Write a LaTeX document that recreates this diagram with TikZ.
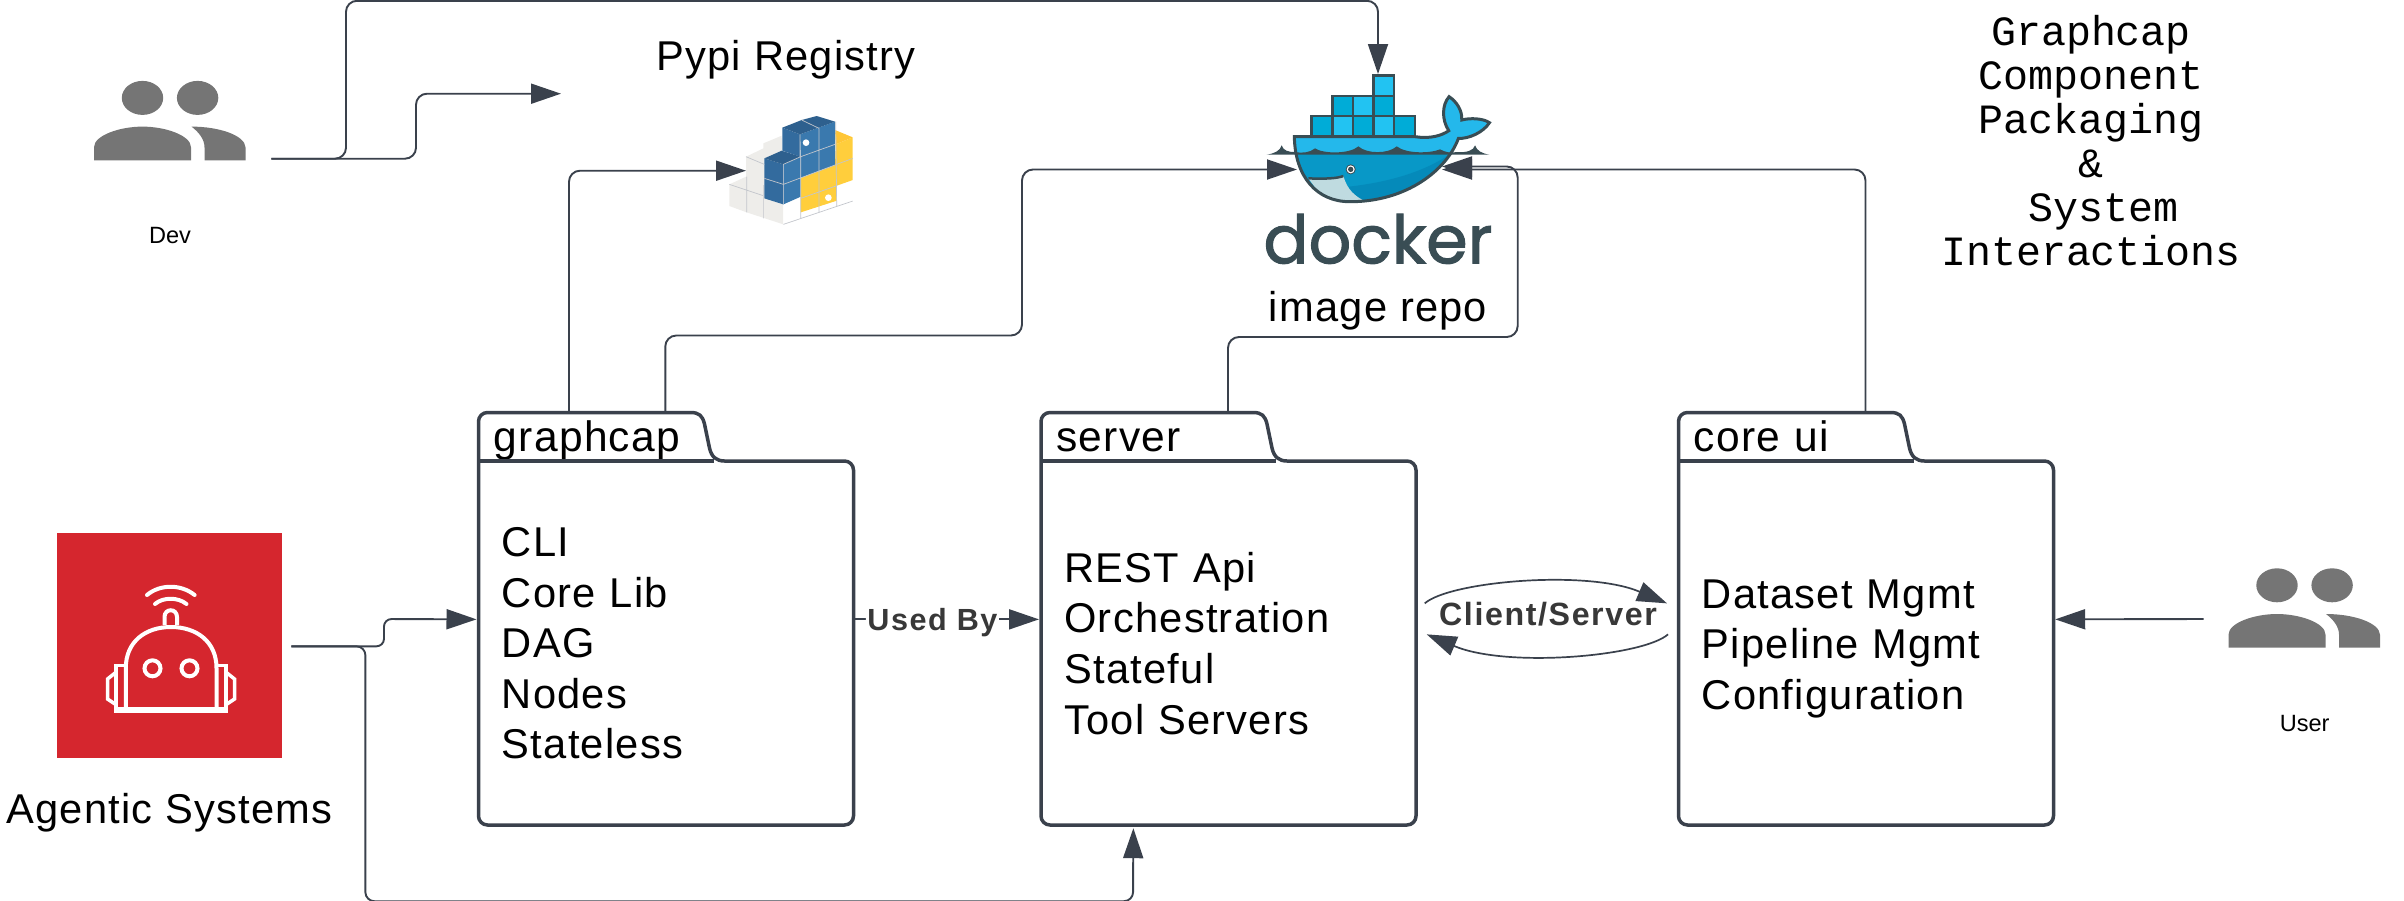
\documentclass[tikz,border=0pt]{standalone}
\usepackage{fontspec}
\usepackage{tikz}
\usetikzlibrary{positioning,arrows.meta}
\setmainfont{Liberation Sans}
\newfontfamily\labelfont[LetterSpace=3]{Liberation Sans}
\newfontfamily\edgefont[LetterSpace=5]{Liberation Sans}
\newfontfamily\titlefont{Liberation Mono}
\newfontfamily\dockerfont[FakeBold=1.6]{Poppins}
\definecolor{linegray}{HTML}{3A414C}
\definecolor{peoplegray}{HTML}{757575}
\definecolor{robotred}{HTML}{D5262E}
\definecolor{dockerdark}{HTML}{394D54}
\definecolor{boxdark}{HTML}{00ACD7}
\definecolor{boxlight}{HTML}{22C3F2}
\definecolor{whaletop}{HTML}{24B8EB}
\definecolor{whalemid}{HTML}{0898C7}
\definecolor{whalelow}{HTML}{058ABA}
\definecolor{whalebelly}{HTML}{BFDBE0}
\definecolor{cubegray}{HTML}{EEEDEA}
\definecolor{cubeline}{HTML}{C3C6CC}
\definecolor{pyblue}{HTML}{3A79AE}
\definecolor{pybluedark}{HTML}{336B9E}
\definecolor{pyyellow}{HTML}{FFCE3C}
\tikzset {
    style pkgline/.style={
        draw=linegray,
        line width=.7mm,
    },
    style pkg/.style={
        rectangle, % body of a package
        anchor=north west,
        minimum height=72.8mm,
        text width=65.8mm,
        inner xsep=4.6mm,
        inner ysep=0mm,
        align=left,
        font=\labelfont\fontsize{23.7}{28.75}\selectfont,
    },
    style tab/.style={
        rectangle, % tab of a package
        anchor=north west,
        text width=41mm,
        inner xsep=3mm,
        inner ysep=0mm,
        text height=7.7mm,
        text depth=2mm,
        align=left,
        font=\labelfont\fontsize{24.2}{28.75}\selectfont,
    },
    style plain/.style={
        draw=none,
        anchor=base,
        inner sep=0mm,
        font=\labelfont\fontsize{23.7}{28.75}\selectfont,
    },
    style small/.style={
        draw=none,
        anchor=base,
        inner sep=0mm,
        font=\fontsize{13.4}{16}\selectfont,
    },
    style edge/.style={
        fill=white,
        anchor=base,
        text=black!78,
        inner xsep=.3mm,
        inner ysep=.2mm,
        font=\edgefont\bfseries\fontsize{18.3}{20}\selectfont,
    },
    style conn/.style={
        draw=linegray,
        line width=.38mm,
        rounded corners=2.2mm,
        -{Triangle[length=6mm,width=4mm]},
    },
    style arc/.style={
        draw=linegray,
        line width=.34mm,
        -{Triangle[length=6mm,width=4mm]},
    },
    style robot/.style={
        draw=white,
        line width=.8mm,
    },
    style crate/.style={
        draw=dockerdark,
        line width=.54mm,
    },
    people/.pic={
        \fill[peoplegray] (48.5,-62.4) ellipse [x radius=20.7,y radius=17];
        \fill[peoplegray] (103.6,-62.4) ellipse [x radius=20.7,y radius=17];
        \fill[peoplegray] (0,0) -- (0,-13) .. controls (0,-25) and (26,-33.7) .. (48.5,-33.7)
            .. controls (71,-33.7) and (97,-25) .. (97,-13) -- (97,0) -- cycle;
        \fill[peoplegray] (97.5,-33.7) .. controls (125,-33.7) and (151,-25) .. (151.5,-13)
            -- (151.5,0) -- (110.5,0) -- (110.5,-13) .. controls (110.5,-21) and (105,-28) .. cycle;
    },
}
% outline of a package, tab included
\newcommand{\pkgoutline}[1]{
\draw[style pkgline, line join=round] (#1.north west) -- ++(0,-39.5) .. controls +(0,-5) and +(-5,0) .. ++(9,-9) -- ++(203,0)
    .. controls +(9,0) and +(-2,-8) .. ++(14,11.5) -- ++(5,24)
    .. controls +(2,9) and +(-8,0) .. ++(15,13) -- ++(120,0)
    .. controls +(5,0) and +(0,-5) .. ++(9,9) -- ++(0,346)
    .. controls +(0,5) and +(5,0) .. ++(-9,9) -- ++(-357,0)
    .. controls +(-5,0) and +(0,5) .. ++(-9,-9) -- (#1.north west);
\draw[style pkgline] (#1.north west) -- ++(235,0);
}
\begin{document}
\begin{tikzpicture}[x=.2mm,y=-.2mm]
\useasboundingbox (0,0) rectangle (2404,900);

% docker logo
\begin{scope}[shift={(1260,70)},x=.0667mm,y=-.0667mm]
\def\whalebody{(103,200) -- (465,200) .. controls (510,207) and (545,197) .. (566,182)
    .. controls (545,150) and (545,105) .. (567,80) .. controls (590,95) and (607,122) .. (605,150)
    .. controls (630,143) and (670,145) .. (688,158) .. controls (670,187) and (625,207) .. (595,205)
    .. controls (560,300) and (440,395) .. (270,395) .. controls (170,395) and (105,320) .. (103,200) -- cycle}
\fill[whalemid] \whalebody;
\begin{scope}
\clip \whalebody;
\fill[whaletop] (90,70) rectangle (700,250);
\fill[whalelow] (570,252) .. controls (500,300) and (400,335) .. (265,350) -- (300,400) -- (600,400) -- cycle;
\fill[whalebelly] (145,325) .. controls (200,327) and (230,325) .. (250,318)
    .. controls (262,360) and (285,378) .. (312,392) -- (200,400) -- cycle;
\end{scope}
\fill[dockerdark] (20,254) .. controls (45,250) and (60,242) .. (65,226) .. controls (70,242) and (85,246) .. (105,246)
    .. controls (125,250) and (150,248) .. (165,235) .. controls (190,252) and (270,252) .. (295,229)
    .. controls (320,252) and (385,252) .. (410,229) .. controls (440,252) and (510,250) .. (540,238)
    .. controls (555,246) and (570,250) .. (590,246) .. controls (620,248) and (640,242) .. (645,226)
    .. controls (650,242) and (665,250) .. (688,254) -- cycle;
\draw[dockerdark,line width=.6mm] \whalebody;
\draw[dockerdark,line width=.5mm] (145,325) .. controls (200,327) and (230,325) .. (250,318);
\fill[dockerdark] (272,298) circle (15);
\fill[white] (272,298) circle (12);
\fill[dockerdark] (272,298) circle (8);
\draw[style crate,fill=boxdark] (155,138) rectangle (218,200);
\draw[style crate,fill=boxlight] (218,138) rectangle (279,200);
\draw[style crate,fill=boxdark] (279,138) rectangle (340,200);
\draw[style crate,fill=boxlight] (340,138) rectangle (402,200);
\draw[style crate,fill=boxdark] (402,138) rectangle (465,200);
\draw[style crate,fill=boxdark] (218,78) rectangle (279,138);
\draw[style crate,fill=boxlight] (279,78) rectangle (340,138);
\draw[style crate,fill=boxdark] (340,78) rectangle (402,138);
\draw[style crate,fill=boxlight] (340,17) rectangle (402,78);
\end{scope}

% python logo
\begin{scope}[shift={(720,105)},x=.0667mm,y=-.0667mm]
\fill[cubegray] (28,238) -- (78,215) -- (78,155) -- (130,130) -- (130,115) -- (185,92) -- (190,300) -- (190,358)
    -- (135,340) -- (80,322) -- (28,303) -- cycle;
\fill[white] (190,298) -- (242,278) -- (242,340) -- (190,358) -- cycle;
\fill[white] (350,242) -- (398,225) -- (398,288) -- (350,305) -- cycle;
\fill[pyyellow] (242,218) -- (345,180) -- (347,118) -- (398,97) -- (398,225) -- (350,242) -- (350,287) -- (242,322) -- cycle;
\fill[pyyellow!90!orange] (345,75) -- (398,97) -- (347,118) -- cycle;
\fill[pybluedark] (187,68) -- (240,88) -- (240,155) -- (187,137) -- cycle;
\fill[pyblue] (240,88) -- (345,50) -- (345,180) -- (242,218) -- (242,155) -- cycle;
\fill[pybluedark!90!black] (187,68) -- (245,45) -- (290,33) -- (345,50) -- (240,88) -- cycle;
\fill[pybluedark] (133,160) -- (190,178) -- (190,298) -- (133,280) -- cycle;
\fill[pyblue] (190,178) -- (242,155) -- (242,275) -- (190,298) -- cycle;
\fill[pybluedark!90!black] (133,160) -- (185,137) -- (242,155) -- (190,178) -- cycle;
\draw[cubeline,line width=.14mm] (80,215) -- (80,322) (130,240) -- (130,340) (28,238) -- (130,272)
    (78,155) -- (133,178) (133,220) -- (190,238) -- (398,160) (190,178) -- (190,298) (242,155) -- (242,340)
    (297,70) -- (297,322) (347,50) -- (350,305) (240,88) -- (240,155) (190,178) -- (242,155) (242,155) -- (345,118)
    (190,358) -- (398,288) (245,45) -- (297,70) (242,280) -- (350,242);
\fill[white] (258,113) circle (10);
\fill[white] (325,278) circle (10);
\end{scope}

% agent icon
\node[fill=robotred, minimum width=45mm, minimum height=45mm] at (169.5,645.5) (agent) {};
\draw[style robot, line cap=round] (147,595) .. controls (160,584) and (181,584) .. (194.6,595);
\draw[style robot, line cap=round] (155,604) .. controls (163,597) and (178,597) .. (186.5,604);
\draw[style robot] (164.5,625) -- (164.5,617) .. controls (164.5,608) and (177,608) .. (177,617) -- (177,625);
\draw[style robot] (125.8,708) -- (125.8,668) .. controls (125.8,642) and (145,627) .. (171,627)
    .. controls (197,627) and (216.5,642) .. (216.5,668) -- (216.5,708);
\draw[style robot] (152.5,668.3) circle (8);
\draw[style robot] (189.5,668.3) circle (8);
\draw[style robot, line width=1.2mm] (114,709.7) -- (228,709.7);
\draw[style robot, line width=.7mm] (116,708) -- (116,665.5) -- (124,665.5);
\draw[style robot, line width=.7mm] (226,708) -- (226,665.5) -- (218,665.5);
\draw[style robot, line width=.7mm] (115,673) -- (107.5,679) -- (107.5,699) -- (115,704);
\draw[style robot, line width=.7mm] (227,673) -- (234.5,679) -- (234.5,699) -- (227,704);

% people
\pic at (94,160.3) {people};
\pic at (2228.5,647.7) {people};

% labels
\node[style small] at (170,243.3) (devLabel) {Dev};
\node[style small] at (2304.7,731) (userLabel) {User};
\node[style plain] at (169.5,823) (agentLabel) {Agentic Systems};
\node[style plain] at (786,70.7) (pypiLabel) {Pypi Registry};
\node[style plain] at (1378,321) (repoLabel) {image repo};
\node[draw=none, anchor=base, inner sep=0mm, text=dockerdark, font=\dockerfont\fontsize{38}{40}\selectfont] at (1378,263.3) (dockerLabel) {docker};
\node[draw=none, align=center, inner sep=0mm, anchor=north, font=\titlefont\fontsize{23.7}{25}\selectfont] at (2091,15) (title) {Graphcap\\Component\\Packaging\\\&\\~System\\Interactions};

% packages
\node[style tab] at (478.5,412.5) (graphcapTab) {graphcap};
\node[style tab] at (1041,412.5) (serverTab) {server};
\node[style tab] at (1678.5,412.5) (coreuiTab) {core ui};
\node[style pkg] at (478.5,461) (graphcap) {CLI\\Core Lib\\DAG\\Nodes\\Stateless};
\node[style pkg] at (1041,461) (server) {REST Api\\Orchestration\\Stateful\\Tool Servers};
\node[style pkg] at (1678.5,461) (coreui) {\rule{0pt}{22.4pt}Dataset Mgmt\\Pipeline Mgmt\\Configuration};
\pkgoutline{graphcap}
\pkgoutline{server}
\pkgoutline{coreui}

% free ends
\coordinate (devOut) at (271.4,158.7);
\coordinate (pypiOut) at (561,93.7);
\coordinate (pypiIn) at (746,170.7);
\coordinate (dockerTop) at (1378,74);
\coordinate (dockerLeft) at (1297,169.5);
\coordinate (dockerRightA) at (1442,166.5);
\coordinate (dockerRightB) at (1442,169.5);
\coordinate (agentOut) at (291.4,646.3);
\coordinate (userOut) at (2203.6,619);

\draw[style conn] (devOut) -- (346,158.7) -- (346,.8) -- (1378,.8) -- (dockerTop);
\draw[style conn] (devOut) -- (416,158.7) -- (416,93.7) -- (pypiOut);
\draw[style conn] ([shift={(90.5,0)}]graphcapTab.north west) -- (569,170.7) -- (pypiIn);
\draw[style conn] ([shift={(186.8,0)}]graphcapTab.north west) -- (665.3,335.5) -- (1022,335.5) -- (1022,169.5) -- (dockerLeft);
\draw[style conn] ([shift={(187,0)}]serverTab.north west) -- (1228,337) -- (1517.7,337) -- (1517.7,166.5) -- (dockerRightA);
\draw[style conn] ([shift={(187,0)}]coreuiTab.north west) -- (1865.5,169.5) -- (dockerRightB);
\draw[style conn, rounded corners=1.5mm] (agentOut) -- (384,646.3) -- (384,619) -- ([shift={(-2,-24)}]graphcap.west);
\draw[style conn, rounded corners=1.8mm] (agentOut) -- (365.4,646.3) -- (365.4,901.2) -- (1133,901.2) -- ([shift={(-95.5,2.5)}]server.south);
\draw[style conn] (userOut) -- ([shift={(1,-24)}]coreui.east);
\draw[style conn] ([shift={(1,-24)}]graphcap.east) -- node[style edge, pos=.42, yshift=-2.2mm] (usedBy) {\fontsize{17.4}{20}\selectfont Used By} ([shift={(-2,-24)}]server.west);
\draw[style arc] ([shift={(8,-40)}]server.east) .. controls +(25,-22) and +(-80,-34) .. ([shift={(-11.5,-40)}]coreui.west);
\draw[style arc] ([shift={(-10.5,-9)}]coreui.west) .. controls +(-25,22) and +(80,34) .. ([shift={(10,-9)}]server.east);
\node[style edge, fill=none] at (1548,625) (clientServer) {Client/Server};
\end{tikzpicture}
\end{document}
